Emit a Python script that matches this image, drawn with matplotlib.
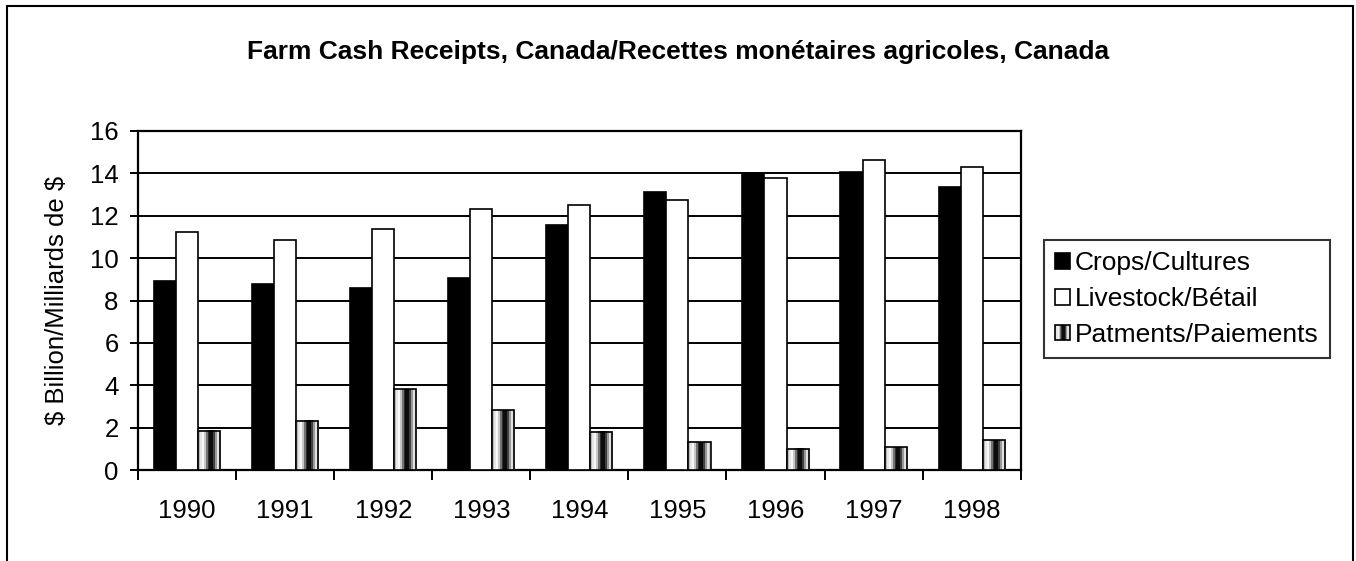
import numpy as np
import matplotlib
matplotlib.use("Agg")
import matplotlib.pyplot as plt
from matplotlib.patches import Rectangle
from matplotlib.legend_handler import HandlerBase

years = ["1990", "1991", "1992", "1993", "1994", "1995", "1996", "1997", "1998"]
crops = [8.9, 8.78, 8.59, 9.05, 11.56, 13.1, 14.03, 14.06, 13.37]
livestock = [11.22, 10.87, 11.36, 12.32, 12.5, 12.73, 13.76, 14.61, 14.28]
payments = [1.85, 2.33, 3.81, 2.83, 1.81, 1.32, 1.0, 1.07, 1.4]
series_labels = ["Crops/Cultures", "Livestock/Bétail", "Patments/Paiements"]
title = "Farm Cash Receipts, Canada/Recettes monétaires agricoles, Canada"
ylabel = r"\$ Billion/Milliards de \$"
yticks = [0, 2, 4, 6, 8, 10, 12, 14, 16]

# horizontal shading profile of the "payments" bars (grey level 0=black..1=white)
profile = np.array([0.72, 0.9, 0.97, 0.78, 0.45, 0.18, 0.05, 0.05, 0.25, 0.6, 0.88, 0.78])

plt.rcParams['font.family'] = ['Liberation Sans', 'DejaVu Sans']

W, H = 1356, 561
fig = plt.figure(figsize=(W / 100, H / 100), dpi=100)
ax = fig.add_axes([138 / W, 1 - 470 / H, (1020.7 - 138) / W, (470 - 131) / H])

x = np.arange(len(years))
bw = 0.225
lw_edge = 1.2
FS = 18.5

ax.bar(x - bw, crops, bw, color='black', edgecolor='black', linewidth=lw_edge, zorder=3)
ax.bar(x, livestock, bw, color='white', edgecolor='black', linewidth=lw_edge, zorder=3)
pay_bars = ax.bar(x + bw, payments, bw, facecolor='none', edgecolor='black',
                  linewidth=lw_edge, zorder=4)

grad = profile.reshape(1, -1)
for rect in pay_bars:
    x0 = rect.get_x()
    w = rect.get_width()
    h = rect.get_height()
    ax.imshow(grad, cmap='gray', vmin=0, vmax=1, aspect='auto',
              extent=(x0, x0 + w, 0, h), interpolation='nearest', zorder=3)

ax.set_xlim(-0.5, len(years) - 0.5)
ax.set_ylim(0, 16)
ax.set_yticks(yticks)
ax.set_yticklabels([str(v) for v in yticks])
ax.yaxis.grid(True, color='black', linewidth=1.4)
ax.set_axisbelow(True)

# x ticks: marks between categories, labels at category centers
ax.set_xticks(np.arange(-0.5, len(years), 1.0))
ax.set_xticklabels([])
ax.set_xticks(x, minor=True)
ax.set_xticklabels(years, minor=True)
ax.tick_params(axis='x', which='major', direction='out', length=7.5, width=1.4, color='black')
ax.tick_params(axis='x', which='minor', length=0, pad=21, labelsize=FS)
ax.tick_params(axis='y', direction='out', length=6, width=1.4, pad=8, labelsize=FS)

for s in ax.spines.values():
    s.set_linewidth(1.6)
    s.set_color('black')

fig.text(57 / W, 1 - 300 / H, ylabel, rotation=90, ha='center', va='center', fontsize=FS)
fig.text(0.5, 1 - 52 / H, title, ha='center', va='center', fontsize=19, fontweight='bold')


class GradHandler(HandlerBase):
    def create_artists(self, legend, orig_handle, xdescent, ydescent, width, height, fontsize, trans):
        arts = []
        n = len(profile)
        x0, y0 = -xdescent, -ydescent
        w = width / n
        for i, g in enumerate(profile):
            arts.append(Rectangle((x0 + i * w, y0), w, height, facecolor=str(g),
                                  edgecolor='none', transform=trans))
        arts.append(Rectangle((x0, y0), width, height, facecolor='none',
                              edgecolor='black', linewidth=1.2, transform=trans))
        return arts


h1 = Rectangle((0, 0), 1, 1, facecolor='black', edgecolor='black', linewidth=1.2)
h2 = Rectangle((0, 0), 1, 1, facecolor='white', edgecolor='black', linewidth=1.2)
h3 = Rectangle((0, 0), 1, 1, facecolor='none', edgecolor='black')
leg = fig.legend([h1, h2, h3], series_labels, loc='center',
                 bbox_to_anchor=(1187 / W, 1 - 299 / H), fontsize=19,
                 handler_map={h3: GradHandler()},
                 handlelength=0.55, handleheight=0.55, handletextpad=0.2,
                 labelspacing=0.45, borderpad=0.42, borderaxespad=0,
                 fancybox=False, shadow=False, frameon=True)
leg.get_frame().set_edgecolor('black')
leg.get_frame().set_linewidth(1.5)

# outer chart border
fig.patches.append(Rectangle((7 / W, -0.1), (1353 - 7) / W, 1.1 - 6 / H,
                             transform=fig.transFigure, facecolor='none',
                             edgecolor='black', linewidth=1.5, clip_on=False))

fig.savefig('out.png', dpi=100)
